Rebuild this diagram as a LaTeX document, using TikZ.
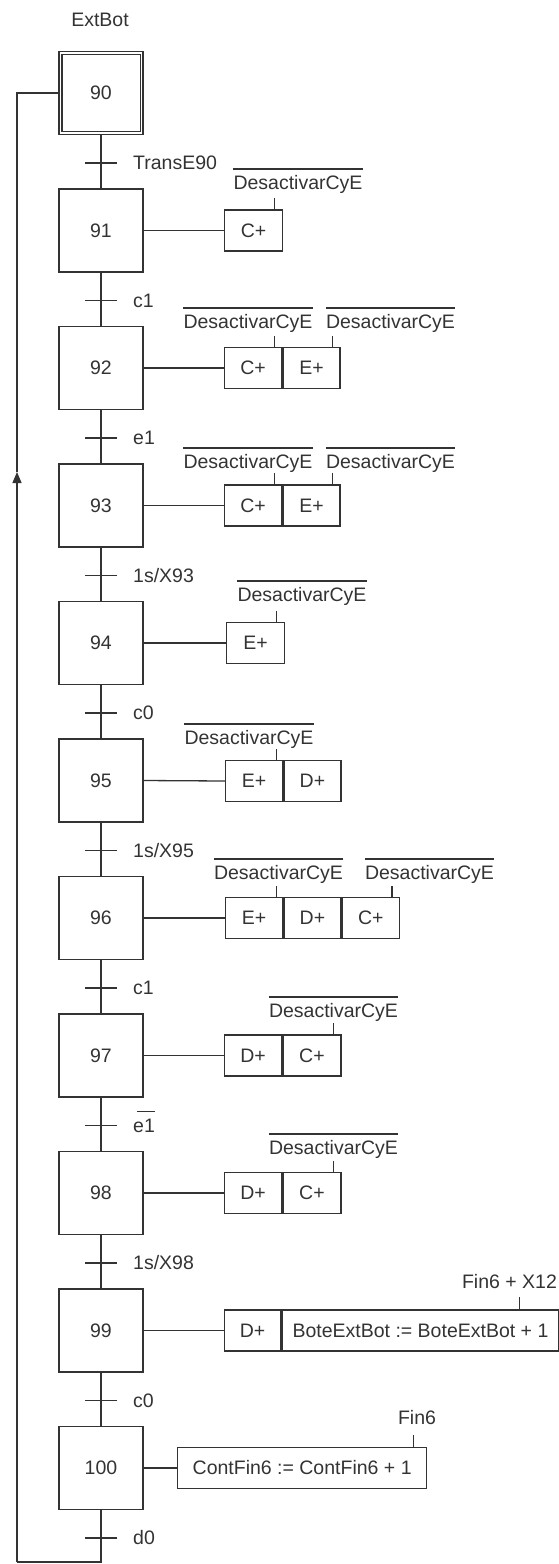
\documentclass[tikz,border=0pt]{standalone}
\usepackage{fontspec}
\setmainfont{Liberation Sans}
\usetikzlibrary{arrows.meta}
\definecolor{ink}{HTML}{333333}
\begin{document}
\begin{tikzpicture}[x=1pt,y=-1pt,
  every node/.style={text=ink, font=\fontsize{19.5}{23}\selectfont},
  inkline/.style={draw=ink, line width=1.3pt},
  stepbox/.style={inkline, minimum width=84pt, minimum height=83pt, inner sep=0pt},
  act/.style={inkline, minimum height=41pt, inner sep=0pt, anchor=west},
  lbl/.style={inner sep=0pt, text height=13.6pt, text depth=0pt},
  trlbl/.style={lbl, anchor=west},
]
\useasboundingbox (0,0) rectangle (559,1564);

% title
\node[lbl] (title) at (100,20) {ExtBot};

% steps
\node[stepbox] (s90) at (101,93) {90};
\draw[inkline] ([shift={(3.5,3.5)}]s90.north west) rectangle ([shift={(-3.5,-3.5)}]s90.south east);
\foreach \n [count=\i from 1] in {91,...,100} {
  \node[stepbox] (s\n) at (101,93+137.5*\i) {\n};
}

% links between steps
\foreach \a/\b in {90/91,91/92,92/93,93/94,94/95,95/96,96/97,97/98,98/99,99/100} {
  \draw[inkline] (s\a.south) -- (s\b.north);
}

% transitions
\foreach \lab [count=\i from 0] in {TransE90,c1,e1,1s/X93,c0,1s/X95,c1,e1,1s/X98,c0,d0} {
  \coordinate (t\i) at (101,163+137.5*\i);
  \draw[inkline] ([xshift=-16pt]t\i) -- ([xshift=16pt]t\i);
  \node[trlbl] (tl\i) at (133,163+137.5*\i) {\lab};
}
\draw[inkline] ([xshift=4pt,yshift=7pt]tl7.north west) -- ([yshift=7pt]tl7.north east);

% loop back
\coordinate (lb) at (17,1562);
\coordinate (arr) at (17,472);
\coordinate (lt) at (17,93);
\draw[inkline] (s100.south) |- (lb);
\draw[inkline, -{Triangle[length=11pt,width=9pt]}] (lb) -- (arr);
\draw[inkline] (arr) -- (lt) -- (s90.west);

% ---- actions ----
% 91
\node[act, minimum width=58pt] (a91) at (224,230.5) {C+};
\draw[inkline] (s91.east) -- (a91.west);
\node[lbl] (l91) at (298,183) {DesactivarCyE};
\draw[inkline] ([yshift=7pt]l91.north west) -- ([yshift=7pt]l91.north east);
\draw[inkline] ([xshift=-9pt]a91.north east) -- ++(0,-11);

% 92
\node[act, minimum width=57pt] (a92a) at (224,368) {C+};
\node[act, minimum width=57pt] (a92b) at (a92a.east) {E+};
\draw[inkline] (s92.east) -- (a92a.west);
\node[lbl] (l92a) at (248,322) {DesactivarCyE};
\node[lbl] (l92b) at (390.5,322) {DesactivarCyE};
\draw[inkline] ([yshift=7pt]l92a.north west) -- ([yshift=7pt]l92a.north east);
\draw[inkline] ([yshift=7pt]l92b.north west) -- ([yshift=7pt]l92b.north east);
\draw[inkline] ([xshift=-8pt]a92a.north east) -- ++(0,-11);
\draw[inkline] ([xshift=-8pt]a92b.north east) -- ++(0,-11);

% 93
\node[act, minimum width=57pt] (a93a) at (224,505.5) {C+};
\node[act, minimum width=57pt] (a93b) at (a93a.east) {E+};
\draw[inkline] (s93.east) -- (a93a.west);
\node[lbl] (l93a) at (248,462) {DesactivarCyE};
\node[lbl] (l93b) at (390.5,462) {DesactivarCyE};
\draw[inkline] ([yshift=7pt]l93a.north west) -- ([yshift=7pt]l93a.north east);
\draw[inkline] ([yshift=7pt]l93b.north west) -- ([yshift=7pt]l93b.north east);
\draw[inkline] ([xshift=-8pt]a93a.north east) -- ++(0,-11);
\draw[inkline] ([xshift=-8pt]a93b.north east) -- ++(0,-11);

% 94
\node[act, minimum width=58pt] (a94) at (226,643) {E+};
\draw[inkline] (s94.east) -- (a94.west);
\node[lbl] (l94) at (302,595) {DesactivarCyE};
\draw[inkline] ([yshift=7pt]l94.north west) -- ([yshift=7pt]l94.north east);
\draw[inkline] ([xshift=-9pt]a94.north east) -- ++(0,-11);

% 95
\node[act, minimum width=57pt] (a95a) at (225,781) {E+};
\node[act, minimum width=57pt] (a95b) at (a95a.east) {D+};
\draw[inkline] (s95.east) -- (a95a.west);
\node[lbl] (l95) at (249,738) {DesactivarCyE};
\draw[inkline] ([yshift=7pt]l95.north west) -- ([yshift=7pt]l95.north east);
\draw[inkline] ([xshift=-7pt]a95a.north east) -- ++(0,-11);

% 96
\node[act, minimum width=57pt] (a96a) at (225,918) {E+};
\node[act, minimum width=57pt] (a96b) at (a96a.east) {D+};
\node[act, minimum width=57pt] (a96c) at (a96b.east) {C+};
\draw[inkline] (s96.east) -- (a96a.west);
\node[lbl] (l96a) at (278.5,873) {DesactivarCyE};
\node[lbl] (l96b) at (429.5,873) {DesactivarCyE};
\draw[inkline] ([yshift=7pt]l96a.north west) -- ([yshift=7pt]l96a.north east);
\draw[inkline] ([yshift=7pt]l96b.north west) -- ([yshift=7pt]l96b.north east);
\draw[inkline] ([xshift=-7pt]a96a.north east) -- ++(0,-11);
\draw[inkline] ([xshift=-8pt]a96c.north east) -- ++(0,-11);

% 97
\node[act, minimum width=57pt] (a97a) at (224,1055.5) {D+};
\node[act, minimum width=58pt] (a97b) at (a97a.east) {C+};
\draw[inkline] (s97.east) -- (a97a.west);
\node[lbl] (l97) at (333.5,1011) {DesactivarCyE};
\draw[inkline] ([yshift=7pt]l97.north west) -- ([yshift=7pt]l97.north east);
\draw[inkline] ([xshift=-8pt]a97b.north east) -- ++(0,-11);

% 98
\node[act, minimum width=57pt] (a98a) at (224,1193) {D+};
\node[act, minimum width=58pt] (a98b) at (a98a.east) {C+};
\draw[inkline] (s98.east) -- (a98a.west);
\node[lbl] (l98) at (333.5,1148) {DesactivarCyE};
\draw[inkline] ([yshift=7pt]l98.north west) -- ([yshift=7pt]l98.north east);
\draw[inkline] ([xshift=-8pt]a98b.north east) -- ++(0,-11);

% 99
\node[act, minimum width=56pt] (a99a) at (224,1330.5) {D+};
\node[act, minimum width=277pt] (a99b) at (a99a.east) {BoteExtBot := BoteExtBot + 1};
\draw[inkline] (s99.east) -- (a99a.west);
\node[lbl] (l99) at (509.5,1282) {Fin6 + X12};
\draw[inkline] ([xshift=-40pt]a99b.north east) -- ++(0,-12);

% 100
\node[act, minimum width=249pt] (a100) at (177,1468) {ContFin6 := ContFin6 + 1};
\draw[inkline] (s100.east) -- (a100.west);
\node[lbl] (l100) at (417,1418) {Fin6};
\draw[inkline] ([xshift=-14pt]a100.north east) -- ++(0,-12);

\end{tikzpicture}
\end{document}
